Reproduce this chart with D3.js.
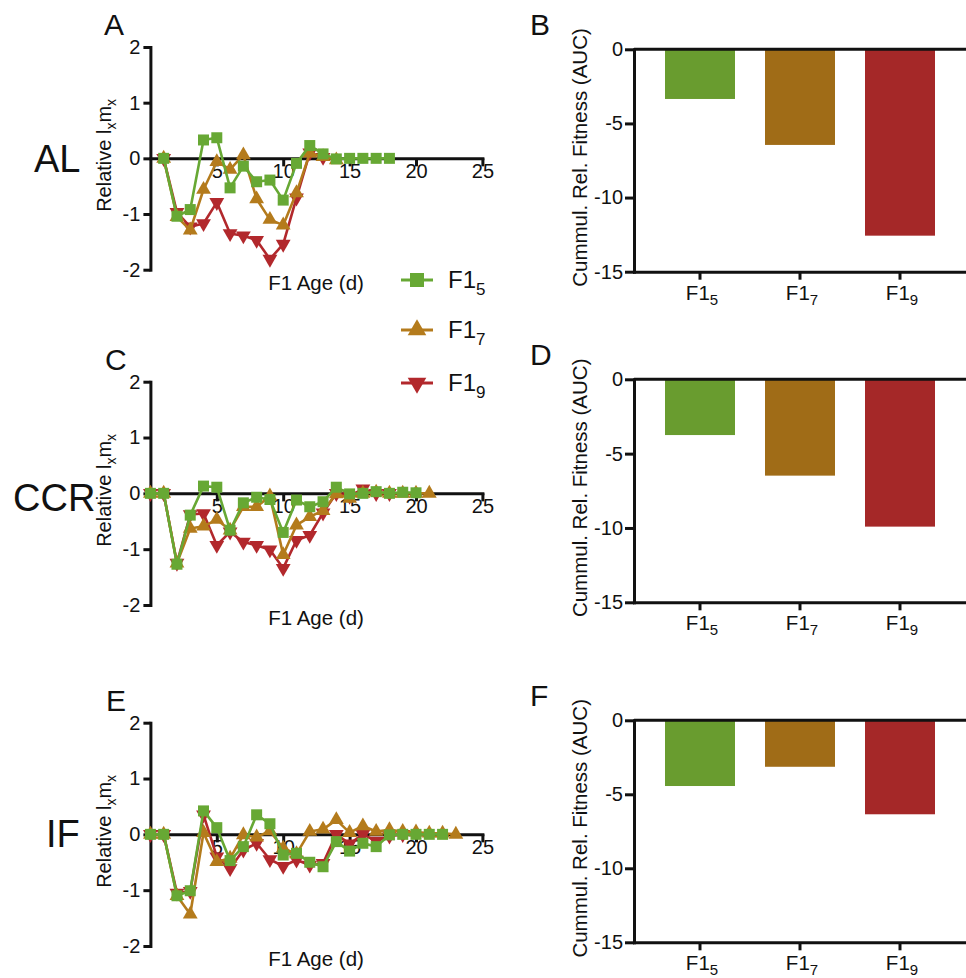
<!DOCTYPE html>
<html>
<head>
<meta charset="utf-8">
<script src="https://cdn.jsdelivr.net/npm/d3@7"></script>
<style>
  html, body { margin: 0; padding: 0; background: #fff; }
  svg { display: block; font-family: "Liberation Sans", Arial, Helvetica, sans-serif; }
</style>
</head>
<body>
<svg id="fig" width="966" height="978"></svg>
<script>
// ---- Data -------------------------------------------------------------
const seriesNames = ["F1_5", "F1_7", "F1_9"];
const seriesSub = ["5", "7", "9"];
const lineColors = ["#67a834", "#b47b1c", "#b2282c"];
const barColors = ["#699c2f", "#a06c17", "#a52828"];

// Relative lx*mx by F1 age (days); each list starts at its first day
const alStart = 1;
const alF15 = [0, -1.04, -0.92, 0.33, 0.37, -0.53, -0.14, -0.42, -0.39, -0.75, -0.09, 0.23, 0.08, -0.01, 0, 0, 0, 0];
const alF17 = [0, -1.05, -1.29, -0.56, -0.06, -0.2, 0.06, -0.73, -1.1, -1.2, -0.62, 0.09, 0.03, -0.03];
const alF19 = [0, -0.97, -1.23, -1.17, -0.79, -1.35, -1.39, -1.47, -1.81, -1.54, -0.71, 0.1, 0.02];

const ccrStart = 0;
const ccrF15 = [0, 0, -1.27, -0.39, 0.13, 0.11, -0.66, -0.17, -0.07, -0.11, -0.7, -0.12, -0.24, -0.15, 0.11, -0.01, 0, 0.03, 0, 0.02, 0.01];
const ccrF17 = [0, 0, -1.25, -0.63, -0.59, -0.47, -0.66, -0.24, -0.24, -0.05, -1.1, -0.57, -0.42, -0.31, -0.01, -0.09, 0, 0.02, 0, 0, 0, 0];
const ccrF19 = [0, 0, -1.25, -0.38, -0.36, -0.93, -0.69, -0.87, -0.93, -1.01, -1.34, -0.84, -0.75, -0.35, 0, -0.05, 0.08, 0, 0];

const ifStart = 0;
const ifF15 = [0, 0, -1.1, -1.01, 0.42, 0.12, -0.47, -0.22, 0.35, 0.19, -0.37, -0.34, -0.5, -0.58, -0.13, -0.3, -0.16, -0.22, -0.01, 0, 0, 0, 0];
const ifF17 = [0, 0, -1.1, -1.43, 0.03, -0.49, -0.43, -0.01, -0.05, 0.06, -0.25, -0.35, 0.05, 0.09, 0.26, 0.03, 0.15, 0.05, 0.08, 0.05, 0.04, 0.02, 0.02, 0];
const ifF19 = [0, 0, -1.05, -1.02, 0.35, -0.4, -0.61, -0.28, -0.16, -0.45, -0.57, -0.46, -0.55, -0.52, 0, -0.17, 0, -0.12, -0.03, 0];

// Cumulative relative fitness (area under curve)
const aucAL = [-3.35, -6.45, -12.57];
const aucCCR = [-3.75, -6.48, -9.91];
const aucIF = [-4.44, -3.14, -6.35];

const yTicksLine = [-2, -1, 0, 1, 2];
const xTicksLine = [5, 10, 15, 20, 25];
const yTicksBar = [0, -5, -10, -15];

// ---- Drawing ------------------------------------------------------------
const svg = d3.select("#fig");
svg.append("rect").attr("width", 966).attr("height", 978).attr("fill", "#fff");

const X_RANGE = [150.4, 482.4];
const symbols = [
  { type: d3.symbolSquare, size: 121, rot: 0 },
  { type: d3.symbolTriangle, size: 95, rot: 0 },
  { type: d3.symbolTriangle, size: 95, rot: 180 }
];

function styleAxis(g) {
  g.select(".domain").attr("stroke", "#111").attr("stroke-width", 3).attr("stroke-linecap", "square");
  g.selectAll(".tick line").attr("stroke", "#111").attr("stroke-width", 3);
  g.selectAll(".tick text").attr("fill", "#111").attr("font-size", 20)
    .attr("font-family", "'Liberation Sans', Arial, sans-serif");
}

function linePanel(opts) {
  const x = d3.scaleLinear().domain([0, 25]).range(X_RANGE);
  const y = d3.scaleLinear().domain([-2, 2]).range([opts.bottom, opts.top]);
  const g = svg.append("g");

  // y axis
  const ya = g.append("g").attr("transform", `translate(${X_RANGE[0]},0)`)
    .call(d3.axisLeft(y).tickValues(yTicksLine).tickSize(7).tickSizeOuter(0).tickPadding(3).tickFormat(d => String(d)));
  styleAxis(ya);

  // x axis on the zero line
  const xa = g.append("g").attr("transform", `translate(0,${y(0)})`)
    .call(d3.axisBottom(x).tickValues(xTicksLine).tickSize(8).tickSizeOuter(0).tickPadding(-3).tickFormat(d => String(d)));
  styleAxis(xa);

  // series: F1_9 first so F1_5 sits on top
  const line = d3.line().x(d => x(d.day)).y(d => y(d.v));
  [2, 1, 0].forEach(i => {
    const vals = opts.series[i];
    const pts = vals.map((v, k) => ({ day: opts.start + k, v }));
    g.append("path").datum(pts).attr("d", line)
      .attr("fill", "none").attr("stroke", lineColors[i]).attr("stroke-width", 2.6)
      .attr("stroke-linejoin", "round");
    const sym = d3.symbol().type(symbols[i].type).size(symbols[i].size);
    g.selectAll(null).data(pts).join("path")
      .attr("d", sym)
      .attr("transform", d => `translate(${x(d.day)},${y(d.v)}) rotate(${symbols[i].rot})`)
      .attr("fill", lineColors[i]);
  });

  // y label: Relative l_x m_x
  const yl = g.append("text")
    .attr("transform", `translate(111,${(opts.top + opts.bottom) / 2 - 3}) rotate(-90)`)
    .attr("text-anchor", "middle").attr("font-size", 20).attr("fill", "#111");
  yl.append("tspan").text("Relative l");
  yl.append("tspan").attr("font-size", 14).attr("dy", 5).text("x");
  yl.append("tspan").attr("dy", -5).text("m");
  yl.append("tspan").attr("font-size", 14).attr("dy", 5).text("x");

  // x label
  g.append("text").attr("x", 316).attr("y", opts.bottom + 20)
    .attr("text-anchor", "middle").attr("font-size", 20.5).attr("fill", "#111")
    .text("F1 Age (d)");

  // panel letter and row label
  g.append("text").attr("x", opts.letterX).attr("y", opts.top - 12)
    .attr("font-size", 30).attr("fill", "#111").text(opts.letter);
  g.append("text").attr("x", opts.rowX).attr("y", opts.rowY)
    .attr("font-size", 38).attr("fill", "#111").text(opts.row);
}

function barPanel(opts) {
  const x = d3.scaleBand().domain(seriesNames).range([634, 966]).paddingInner(0.3).paddingOuter(0.31);
  const y = d3.scaleLinear().domain([-15, 0]).range([opts.bottom, opts.top]);
  const g = svg.append("g");

  g.selectAll(null).data(opts.values).join("rect")
    .attr("x", (d, i) => x(seriesNames[i]))
    .attr("width", x.bandwidth())
    .attr("y", y(0))
    .attr("height", d => y(d) - y(0))
    .attr("fill", (d, i) => barColors[i]);

  const ya = g.append("g").attr("transform", "translate(634,0)")
    .call(d3.axisLeft(y).tickValues(yTicksBar).tickSize(9).tickSizeOuter(0).tickPadding(2).tickFormat(d => String(d)));
  styleAxis(ya);

  const xa = g.append("g").attr("transform", `translate(0,${y(-15)})`)
    .call(d3.axisBottom(x).tickSize(8).tickSizeOuter(0).tickFormat(""));
  styleAxis(xa);

  // zero line across the top
  g.append("line").attr("x1", 634).attr("x2", 966).attr("y1", y(0)).attr("y2", y(0))
    .attr("stroke", "#111").attr("stroke-width", 3);

  // category labels F1 with subscript
  seriesNames.forEach((n, i) => {
    const t = g.append("text").attr("x", x(n) + x.bandwidth() / 2 + 2).attr("y", y(-15) + 28)
      .attr("text-anchor", "middle").attr("font-size", 20.5).attr("fill", "#111");
    t.append("tspan").text("F1");
    t.append("tspan").attr("font-size", 15).attr("dy", 5).text(seriesSub[i]);
  });

  g.append("text")
    .attr("transform", `translate(587,${(opts.top + opts.bottom) / 2 - 3}) rotate(-90)`)
    .attr("text-anchor", "middle").attr("font-size", 20.5).attr("fill", "#111")
    .text("Cummul. Rel. Fitness (AUC)");

  g.append("text").attr("x", 530).attr("y", opts.top - 14)
    .attr("font-size", 30).attr("fill", "#111").text(opts.letter);
}

linePanel({ top: 47, bottom: 269.7, start: alStart, series: [alF15, alF17, alF19],
  letter: "A", letterX: 104, row: "AL", rowX: 34, rowY: 172 });
linePanel({ top: 381.7, bottom: 605, start: ccrStart, series: [ccrF15, ccrF17, ccrF19],
  letter: "C", letterX: 105, row: "CCR", rowX: 13, rowY: 511 });
linePanel({ top: 722.7, bottom: 946, start: ifStart, series: [ifF15, ifF17, ifF19],
  letter: "E", letterX: 106, row: "IF", rowX: 46, rowY: 847 });

barPanel({ top: 49.3, bottom: 271.7, values: aucAL, letter: "B" });
barPanel({ top: 379.3, bottom: 602.3, values: aucCCR, letter: "D" });
barPanel({ top: 720.3, bottom: 942.3, values: aucIF, letter: "F" });

// ---- Legend ---------------------------------------------------------
const legendY = [280, 330, 383];
const legendSymbols = [
  { type: d3.symbolSquare, size: 196, rot: 0 },
  { type: d3.symbolTriangle, size: 150, rot: 0 },
  { type: d3.symbolTriangle, size: 150, rot: 180 }
];
const lg = svg.append("g");
seriesNames.forEach((n, i) => {
  const yy = legendY[i];
  lg.append("line").attr("x1", 401).attr("x2", 433).attr("y1", yy).attr("y2", yy)
    .attr("stroke", lineColors[i]).attr("stroke-width", 3);
  lg.append("path").attr("d", d3.symbol().type(legendSymbols[i].type).size(legendSymbols[i].size)())
    .attr("transform", `translate(417,${yy}) rotate(${legendSymbols[i].rot})`)
    .attr("fill", lineColors[i]);
  const t = lg.append("text").attr("x", 448).attr("y", yy + 8)
    .attr("font-size", 24).attr("fill", "#111");
  t.append("tspan").text("F1");
  t.append("tspan").attr("font-size", 17).attr("dy", 7).text(seriesSub[i]);
});
</script>
</body>
</html>
